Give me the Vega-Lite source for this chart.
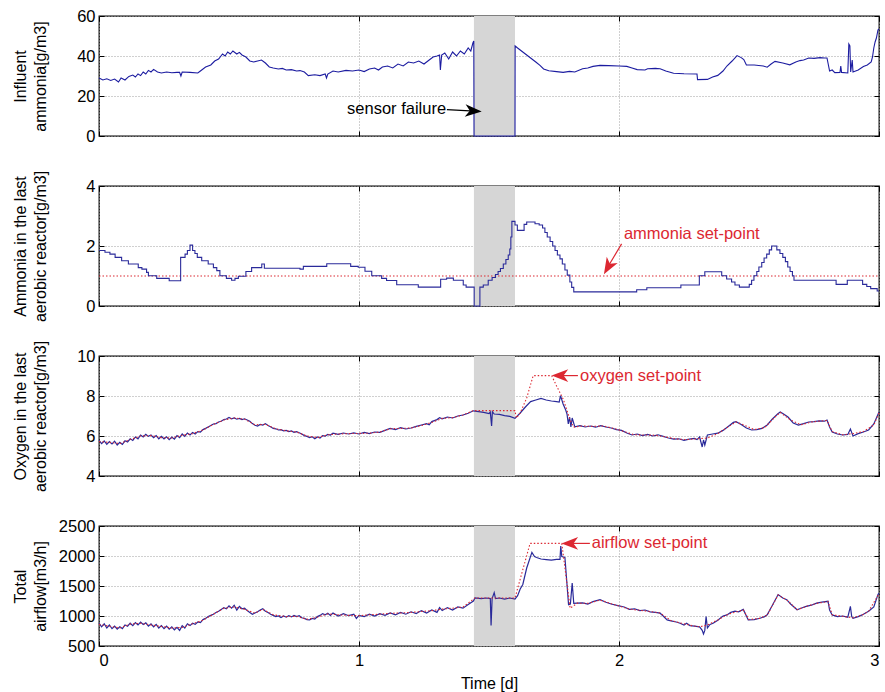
{
  "$schema": "https://vega.github.io/schema/vega-lite/v6.json",
  "background": "white",
  "padding": {"left": 11, "top": 7, "right": 2, "bottom": 2},
  "spacing": 50,
  "bounds": "flush",
  "config": {
    "font": "Liberation Sans",
    "view": {"stroke": "#000000", "strokeWidth": 1.3},
    "axis": {
      "labelFont": "Liberation Sans", "labelFontSize": 16.5, "labelColor": "#000000",
      "titleFont": "Liberation Sans", "titleFontSize": 16, "titleFontWeight": "normal", "titleColor": "#000000",
      "domain": false, "gridColor": "#a0a0a0", "gridDash": [1, 2], "gridWidth": 1,
      "tickColor": "#000000", "tickSize": -5, "labelPadding": 9
    },
    "axisLeft": {"titleAngle": 270, "titleAlign": "center", "titleBaseline": "alphabetic", "titleX": -74, "titleY": 60, "titleLineHeight": 20},
    "text": {"font": "Liberation Sans"}
  },
  "datasets": {
    "influent": [
      {"t":0.000,"v":29.0},{"t":0.015,"v":28.0},{"t":0.030,"v":28.6},{"t":0.045,"v":27.8},{"t":0.060,"v":28.5},{"t":0.075,"v":27.0},{"t":0.085,"v":29.0},{"t":0.100,"v":28.0},{"t":0.115,"v":29.8},{"t":0.130,"v":30.5},{"t":0.140,"v":29.5},{"t":0.150,"v":31.0},{"t":0.160,"v":30.2},{"t":0.170,"v":32.0},{"t":0.180,"v":31.0},{"t":0.190,"v":32.8},{"t":0.200,"v":32.0},{"t":0.210,"v":33.3},{"t":0.225,"v":32.0},{"t":0.240,"v":31.5},{"t":0.260,"v":32.0},{"t":0.280,"v":31.6},{"t":0.300,"v":31.8},{"t":0.310,"v":31.8},{"t":0.315,"v":30.0},{"t":0.320,"v":32.0},{"t":0.350,"v":31.8},{"t":0.380,"v":31.5},{"t":0.390,"v":32.5},{"t":0.410,"v":34.5},{"t":0.430,"v":35.5},{"t":0.445,"v":37.5},{"t":0.460,"v":38.5},{"t":0.475,"v":41.0},{"t":0.485,"v":40.0},{"t":0.495,"v":42.0},{"t":0.505,"v":41.0},{"t":0.515,"v":42.5},{"t":0.530,"v":41.0},{"t":0.540,"v":41.8},{"t":0.550,"v":40.5},{"t":0.565,"v":39.5},{"t":0.580,"v":37.5},{"t":0.595,"v":37.0},{"t":0.610,"v":37.5},{"t":0.625,"v":38.0},{"t":0.640,"v":36.5},{"t":0.655,"v":34.5},{"t":0.670,"v":34.0},{"t":0.690,"v":33.5},{"t":0.705,"v":33.8},{"t":0.720,"v":33.0},{"t":0.740,"v":33.2},{"t":0.760,"v":32.5},{"t":0.773,"v":32.7},{"t":0.790,"v":32.0},{"t":0.805,"v":30.2},{"t":0.830,"v":30.6},{"t":0.850,"v":30.2},{"t":0.870,"v":31.0},{"t":0.875,"v":29.0},{"t":0.880,"v":31.0},{"t":0.900,"v":32.5},{"t":0.920,"v":32.0},{"t":0.950,"v":32.8},{"t":0.975,"v":32.5},{"t":1.000,"v":33.0},{"t":1.020,"v":32.2},{"t":1.040,"v":33.5},{"t":1.060,"v":34.0},{"t":1.075,"v":33.0},{"t":1.090,"v":34.5},{"t":1.110,"v":35.0},{"t":1.130,"v":34.0},{"t":1.150,"v":36.0},{"t":1.170,"v":35.0},{"t":1.190,"v":37.0},{"t":1.210,"v":36.5},{"t":1.230,"v":37.5},{"t":1.250,"v":36.0},{"t":1.270,"v":38.0},{"t":1.285,"v":39.5},{"t":1.300,"v":40.0},{"t":1.310,"v":40.5},{"t":1.313,"v":33.0},{"t":1.318,"v":40.5},{"t":1.330,"v":41.5},{"t":1.345,"v":38.5},{"t":1.360,"v":42.0},{"t":1.375,"v":40.0},{"t":1.390,"v":42.5},{"t":1.405,"v":41.0},{"t":1.420,"v":44.0},{"t":1.430,"v":42.5},{"t":1.438,"v":46.5},{"t":1.4415,"v":47.5},{"t":1.4425,"v":0},{"t":1.600,"v":0},{"t":1.6005,"v":45.0},{"t":1.610,"v":44.0},{"t":1.620,"v":43.0},{"t":1.640,"v":41.0},{"t":1.660,"v":39.0},{"t":1.680,"v":37.0},{"t":1.696,"v":35.3},{"t":1.710,"v":33.5},{"t":1.730,"v":32.6},{"t":1.760,"v":32.2},{"t":1.785,"v":31.8},{"t":1.810,"v":32.3},{"t":1.830,"v":32.0},{"t":1.860,"v":33.6},{"t":1.880,"v":34.0},{"t":1.900,"v":34.8},{"t":1.927,"v":35.3},{"t":1.960,"v":35.2},{"t":2.000,"v":35.0},{"t":2.030,"v":34.8},{"t":2.050,"v":34.0},{"t":2.070,"v":33.2},{"t":2.100,"v":33.0},{"t":2.110,"v":33.6},{"t":2.140,"v":33.8},{"t":2.158,"v":33.6},{"t":2.180,"v":32.5},{"t":2.210,"v":31.4},{"t":2.250,"v":31.1},{"t":2.300,"v":31.0},{"t":2.302,"v":28.2},{"t":2.340,"v":28.3},{"t":2.360,"v":29.5},{"t":2.380,"v":30.3},{"t":2.400,"v":32.5},{"t":2.415,"v":35.0},{"t":2.435,"v":37.5},{"t":2.454,"v":40.2},{"t":2.470,"v":39.2},{"t":2.480,"v":38.2},{"t":2.490,"v":35.5},{"t":2.520,"v":35.5},{"t":2.555,"v":35.0},{"t":2.570,"v":34.4},{"t":2.585,"v":36.0},{"t":2.600,"v":37.3},{"t":2.630,"v":36.5},{"t":2.657,"v":35.6},{"t":2.680,"v":37.0},{"t":2.696,"v":37.7},{"t":2.710,"v":38.0},{"t":2.730,"v":39.0},{"t":2.750,"v":38.8},{"t":2.773,"v":39.2},{"t":2.790,"v":39.0},{"t":2.800,"v":39.0},{"t":2.810,"v":32.5},{"t":2.820,"v":33.0},{"t":2.830,"v":31.7},{"t":2.850,"v":31.8},{"t":2.853,"v":35.0},{"t":2.856,"v":31.8},{"t":2.880,"v":31.5},{"t":2.884,"v":46.0},{"t":2.888,"v":45.0},{"t":2.891,"v":32.0},{"t":2.897,"v":38.0},{"t":2.900,"v":32.0},{"t":2.920,"v":33.0},{"t":2.940,"v":34.7},{"t":2.955,"v":35.5},{"t":2.970,"v":37.0},{"t":2.975,"v":39.5},{"t":2.980,"v":44.0},{"t":2.985,"v":47.0},{"t":2.990,"v":49.0},{"t":2.996,"v":53.0},{"t":3.000,"v":53.5}
    ],
    "ammonia": [
      {"t":0.000,"v":1.85},{"t":0.023,"v":1.79},{"t":0.042,"v":1.73},{"t":0.062,"v":1.62},{"t":0.087,"v":1.51},{"t":0.113,"v":1.40},{"t":0.151,"v":1.28},{"t":0.165,"v":1.23},{"t":0.183,"v":1.12},{"t":0.190,"v":1.01},{"t":0.222,"v":0.92},{"t":0.270,"v":0.84},{"t":0.314,"v":1.62},{"t":0.331,"v":1.73},{"t":0.340,"v":1.85},{"t":0.350,"v":2.03},{"t":0.360,"v":1.85},{"t":0.369,"v":1.75},{"t":0.378,"v":1.62},{"t":0.395,"v":1.51},{"t":0.420,"v":1.40},{"t":0.440,"v":1.28},{"t":0.453,"v":1.18},{"t":0.465,"v":1.01},{"t":0.490,"v":0.92},{"t":0.510,"v":0.86},{"t":0.523,"v":0.92},{"t":0.536,"v":0.99},{"t":0.565,"v":1.15},{"t":0.587,"v":1.28},{"t":0.626,"v":1.40},{"t":0.636,"v":1.26},{"t":0.773,"v":1.23},{"t":0.786,"v":1.32},{"t":0.876,"v":1.41},{"t":0.968,"v":1.32},{"t":0.997,"v":1.29},{"t":1.023,"v":1.16},{"t":1.049,"v":1.01},{"t":1.087,"v":0.92},{"t":1.106,"v":0.85},{"t":1.145,"v":0.71},{"t":1.228,"v":0.63},{"t":1.314,"v":0.89},{"t":1.337,"v":0.93},{"t":1.363,"v":0.86},{"t":1.401,"v":0.70},{"t":1.412,"v":0.63},{"t":1.443,"v":0.0},{"t":1.465,"v":0.63},{"t":1.478,"v":0.70},{"t":1.497,"v":0.86},{"t":1.512,"v":0.95},{"t":1.525,"v":1.05},{"t":1.535,"v":1.15},{"t":1.544,"v":1.25},{"t":1.555,"v":1.40},{"t":1.565,"v":1.55},{"t":1.574,"v":1.70},{"t":1.580,"v":1.90},{"t":1.584,"v":2.30},{"t":1.588,"v":2.82},{"t":1.600,"v":2.70},{"t":1.609,"v":2.52},{"t":1.635,"v":2.72},{"t":1.645,"v":2.80},{"t":1.677,"v":2.74},{"t":1.693,"v":2.70},{"t":1.706,"v":2.60},{"t":1.715,"v":2.45},{"t":1.724,"v":2.30},{"t":1.735,"v":2.15},{"t":1.745,"v":2.00},{"t":1.754,"v":1.85},{"t":1.763,"v":1.70},{"t":1.773,"v":1.57},{"t":1.782,"v":1.40},{"t":1.792,"v":1.20},{"t":1.801,"v":1.03},{"t":1.811,"v":0.80},{"t":1.818,"v":0.62},{"t":1.826,"v":0.47},{"t":2.068,"v":0.54},{"t":2.107,"v":0.61},{"t":2.238,"v":0.70},{"t":2.309,"v":1.01},{"t":2.330,"v":1.14},{"t":2.395,"v":1.01},{"t":2.414,"v":0.90},{"t":2.433,"v":0.80},{"t":2.446,"v":0.70},{"t":2.463,"v":0.63},{"t":2.501,"v":0.72},{"t":2.510,"v":0.86},{"t":2.519,"v":1.01},{"t":2.530,"v":1.15},{"t":2.538,"v":1.30},{"t":2.549,"v":1.45},{"t":2.558,"v":1.60},{"t":2.568,"v":1.73},{"t":2.578,"v":1.87},{"t":2.587,"v":2.00},{"t":2.607,"v":1.87},{"t":2.619,"v":1.75},{"t":2.630,"v":1.62},{"t":2.640,"v":1.48},{"t":2.649,"v":1.30},{"t":2.658,"v":1.15},{"t":2.667,"v":1.01},{"t":2.673,"v":0.86},{"t":2.835,"v":0.72},{"t":2.878,"v":0.86},{"t":2.937,"v":0.72},{"t":2.953,"v":0.65},{"t":2.968,"v":0.58},{"t":2.993,"v":0.50},{"t":3.000,"v":0.50}
    ],
    "oxygen": [
      {"t":0.00,"v":5.78},{"t":0.01,"v":5.62},{"t":0.02,"v":5.75},{"t":0.03,"v":5.58},{"t":0.04,"v":5.72},{"t":0.05,"v":5.60},{"t":0.06,"v":5.74},{"t":0.07,"v":5.55},{"t":0.08,"v":5.68},{"t":0.09,"v":5.58},{"t":0.10,"v":5.76},{"t":0.11,"v":5.70},{"t":0.12,"v":5.86},{"t":0.13,"v":5.78},{"t":0.14,"v":5.95},{"t":0.15,"v":5.86},{"t":0.16,"v":6.05},{"t":0.17,"v":5.95},{"t":0.18,"v":6.08},{"t":0.19,"v":5.98},{"t":0.20,"v":6.05},{"t":0.21,"v":5.92},{"t":0.22,"v":6.02},{"t":0.23,"v":5.86},{"t":0.24,"v":5.98},{"t":0.25,"v":5.85},{"t":0.26,"v":5.96},{"t":0.27,"v":5.82},{"t":0.28,"v":5.95},{"t":0.29,"v":5.84},{"t":0.30,"v":6.02},{"t":0.31,"v":5.92},{"t":0.32,"v":6.10},{"t":0.33,"v":5.98},{"t":0.34,"v":6.15},{"t":0.35,"v":6.05},{"t":0.36,"v":6.18},{"t":0.37,"v":6.10},{"t":0.38,"v":6.22},{"t":0.39,"v":6.20},{"t":0.40,"v":6.32},{"t":0.41,"v":6.38},{"t":0.42,"v":6.45},{"t":0.43,"v":6.52},{"t":0.44,"v":6.60},{"t":0.45,"v":6.62},{"t":0.46,"v":6.70},{"t":0.47,"v":6.74},{"t":0.48,"v":6.82},{"t":0.49,"v":6.85},{"t":0.50,"v":6.93},{"t":0.51,"v":6.86},{"t":0.52,"v":6.90},{"t":0.53,"v":6.84},{"t":0.54,"v":6.88},{"t":0.55,"v":6.82},{"t":0.56,"v":6.86},{"t":0.57,"v":6.80},{"t":0.58,"v":6.74},{"t":0.59,"v":6.62},{"t":0.60,"v":6.54},{"t":0.61,"v":6.50},{"t":0.62,"v":6.58},{"t":0.63,"v":6.55},{"t":0.64,"v":6.62},{"t":0.65,"v":6.52},{"t":0.66,"v":6.46},{"t":0.67,"v":6.38},{"t":0.68,"v":6.36},{"t":0.69,"v":6.30},{"t":0.70,"v":6.32},{"t":0.71,"v":6.26},{"t":0.72,"v":6.28},{"t":0.73,"v":6.22},{"t":0.74,"v":6.25},{"t":0.75,"v":6.18},{"t":0.76,"v":6.22},{"t":0.77,"v":6.16},{"t":0.78,"v":6.10},{"t":0.79,"v":6.02},{"t":0.80,"v":5.98},{"t":0.81,"v":5.92},{"t":0.82,"v":5.96},{"t":0.83,"v":5.86},{"t":0.84,"v":5.95},{"t":0.85,"v":5.90},{"t":0.86,"v":6.02},{"t":0.87,"v":6.00},{"t":0.88,"v":6.08},{"t":0.89,"v":6.05},{"t":0.90,"v":6.14},{"t":0.92,"v":6.08},{"t":0.94,"v":6.15},{"t":0.96,"v":6.10},{"t":0.98,"v":6.16},{"t":1.00,"v":6.10},{"t":1.02,"v":6.18},{"t":1.04,"v":6.12},{"t":1.06,"v":6.20},{"t":1.08,"v":6.18},{"t":1.10,"v":6.28},{"t":1.12,"v":6.38},{"t":1.14,"v":6.32},{"t":1.16,"v":6.42},{"t":1.18,"v":6.35},{"t":1.20,"v":6.40},{"t":1.22,"v":6.48},{"t":1.24,"v":6.55},{"t":1.26,"v":6.62},{"t":1.27,"v":6.56},{"t":1.28,"v":6.72},{"t":1.30,"v":6.82},{"t":1.31,"v":6.92},{"t":1.32,"v":6.86},{"t":1.34,"v":6.95},{"t":1.36,"v":6.90},{"t":1.38,"v":7.00},{"t":1.40,"v":7.05},{"t":1.42,"v":7.14},{"t":1.44,"v":7.26},{"t":1.46,"v":7.22},{"t":1.48,"v":7.18},{"t":1.50,"v":7.12},{"t":1.505,"v":7.20},{"t":1.51,"v":6.50},{"t":1.513,"v":7.22},{"t":1.52,"v":7.10},{"t":1.54,"v":7.08},{"t":1.56,"v":7.02},{"t":1.58,"v":6.98},{"t":1.60,"v":6.88},{"t":1.62,"v":7.15},{"t":1.64,"v":7.45},{"t":1.66,"v":7.72},{"t":1.68,"v":7.80},{"t":1.70,"v":7.88},{"t":1.72,"v":7.80},{"t":1.74,"v":7.75},{"t":1.76,"v":7.72},{"t":1.77,"v":7.70},{"t":1.775,"v":8.02},{"t":1.785,"v":7.60},{"t":1.795,"v":7.30},{"t":1.80,"v":7.10},{"t":1.805,"v":6.60},{"t":1.81,"v":6.95},{"t":1.815,"v":6.45},{"t":1.82,"v":6.90},{"t":1.83,"v":6.46},{"t":1.85,"v":6.52},{"t":1.87,"v":6.45},{"t":1.89,"v":6.50},{"t":1.91,"v":6.44},{"t":1.93,"v":6.52},{"t":1.95,"v":6.45},{"t":1.97,"v":6.40},{"t":1.99,"v":6.32},{"t":2.01,"v":6.28},{"t":2.03,"v":6.15},{"t":2.05,"v":6.05},{"t":2.07,"v":6.10},{"t":2.09,"v":6.02},{"t":2.11,"v":6.08},{"t":2.13,"v":6.00},{"t":2.15,"v":6.06},{"t":2.17,"v":5.98},{"t":2.19,"v":5.90},{"t":2.21,"v":5.84},{"t":2.23,"v":5.86},{"t":2.25,"v":5.78},{"t":2.27,"v":5.84},{"t":2.29,"v":5.88},{"t":2.30,"v":5.82},{"t":2.31,"v":5.95},{"t":2.32,"v":5.45},{"t":2.325,"v":5.80},{"t":2.33,"v":5.55},{"t":2.34,"v":6.05},{"t":2.36,"v":6.10},{"t":2.38,"v":6.14},{"t":2.40,"v":6.28},{"t":2.42,"v":6.48},{"t":2.44,"v":6.68},{"t":2.45,"v":6.72},{"t":2.47,"v":6.58},{"t":2.49,"v":6.40},{"t":2.51,"v":6.30},{"t":2.53,"v":6.32},{"t":2.55,"v":6.38},{"t":2.57,"v":6.55},{"t":2.59,"v":6.85},{"t":2.61,"v":7.10},{"t":2.62,"v":7.20},{"t":2.63,"v":7.12},{"t":2.65,"v":6.95},{"t":2.67,"v":6.65},{"t":2.69,"v":6.55},{"t":2.71,"v":6.62},{"t":2.73,"v":6.70},{"t":2.75,"v":6.72},{"t":2.77,"v":6.76},{"t":2.79,"v":6.74},{"t":2.80,"v":6.80},{"t":2.81,"v":6.45},{"t":2.82,"v":6.20},{"t":2.84,"v":6.10},{"t":2.86,"v":6.05},{"t":2.88,"v":6.08},{"t":2.89,"v":6.35},{"t":2.90,"v":6.00},{"t":2.92,"v":6.12},{"t":2.94,"v":6.20},{"t":2.96,"v":6.30},{"t":2.98,"v":6.60},{"t":3.00,"v":7.20}
    ],
    "oxygenSP": [
      {"t":0.00,"v":5.72},{"t":0.04,"v":5.68},{"t":0.08,"v":5.62},{"t":0.12,"v":5.82},{"t":0.16,"v":6.00},{"t":0.20,"v":6.02},{"t":0.24,"v":5.92},{"t":0.28,"v":5.90},{"t":0.32,"v":6.04},{"t":0.36,"v":6.12},{"t":0.40,"v":6.30},{"t":0.44,"v":6.58},{"t":0.48,"v":6.80},{"t":0.52,"v":6.90},{"t":0.56,"v":6.84},{"t":0.60,"v":6.56},{"t":0.64,"v":6.58},{"t":0.68,"v":6.36},{"t":0.72,"v":6.26},{"t":0.76,"v":6.20},{"t":0.80,"v":6.00},{"t":0.84,"v":5.92},{"t":0.88,"v":6.06},{"t":0.92,"v":6.10},{"t":0.96,"v":6.12},{"t":1.00,"v":6.13},{"t":1.04,"v":6.14},{"t":1.08,"v":6.20},{"t":1.12,"v":6.36},{"t":1.16,"v":6.38},{"t":1.20,"v":6.40},{"t":1.24,"v":6.52},{"t":1.28,"v":6.68},{"t":1.32,"v":6.88},{"t":1.36,"v":6.92},{"t":1.40,"v":7.05},{"t":1.44,"v":7.27},{"t":1.60,"v":7.27},{"t":1.605,"v":6.90},{"t":1.62,"v":7.15},{"t":1.645,"v":7.90},{"t":1.67,"v":9.02},{"t":1.741,"v":9.02},{"t":1.76,"v":8.50},{"t":1.786,"v":7.83},{"t":1.812,"v":6.80},{"t":1.825,"v":6.45},{"t":1.86,"v":6.50},{"t":1.90,"v":6.48},{"t":1.94,"v":6.50},{"t":1.98,"v":6.38},{"t":2.02,"v":6.22},{"t":2.06,"v":6.06},{"t":2.10,"v":6.05},{"t":2.14,"v":6.04},{"t":2.18,"v":5.95},{"t":2.22,"v":5.85},{"t":2.26,"v":5.82},{"t":2.30,"v":5.86},{"t":2.34,"v":5.90},{"t":2.38,"v":6.12},{"t":2.42,"v":6.46},{"t":2.45,"v":6.70},{"t":2.48,"v":6.55},{"t":2.52,"v":6.32},{"t":2.56,"v":6.42},{"t":2.60,"v":6.95},{"t":2.62,"v":7.18},{"t":2.66,"v":6.80},{"t":2.70,"v":6.56},{"t":2.74,"v":6.70},{"t":2.80,"v":6.78},{"t":2.82,"v":6.22},{"t":2.86,"v":6.06},{"t":2.90,"v":6.12},{"t":2.94,"v":6.22},{"t":2.98,"v":6.55},{"t":3.00,"v":7.15}
    ],
    "airflow": [
      {"t":0.00,"v":880},{"t":0.01,"v":820},{"t":0.02,"v":870},{"t":0.03,"v":800},{"t":0.04,"v":850},{"t":0.05,"v":790},{"t":0.06,"v":830},{"t":0.07,"v":780},{"t":0.08,"v":820},{"t":0.09,"v":790},{"t":0.10,"v":850},{"t":0.11,"v":830},{"t":0.12,"v":880},{"t":0.13,"v":840},{"t":0.14,"v":890},{"t":0.15,"v":850},{"t":0.16,"v":900},{"t":0.17,"v":860},{"t":0.18,"v":885},{"t":0.19,"v":830},{"t":0.20,"v":870},{"t":0.21,"v":820},{"t":0.22,"v":860},{"t":0.23,"v":800},{"t":0.24,"v":840},{"t":0.25,"v":790},{"t":0.26,"v":830},{"t":0.27,"v":780},{"t":0.28,"v":820},{"t":0.29,"v":770},{"t":0.30,"v":810},{"t":0.31,"v":760},{"t":0.32,"v":840},{"t":0.33,"v":800},{"t":0.34,"v":870},{"t":0.35,"v":840},{"t":0.36,"v":880},{"t":0.37,"v":860},{"t":0.38,"v":900},{"t":0.39,"v":890},{"t":0.40,"v":940},{"t":0.41,"v":960},{"t":0.42,"v":990},{"t":0.43,"v":1010},{"t":0.44,"v":1030},{"t":0.45,"v":1060},{"t":0.46,"v":1080},{"t":0.47,"v":1110},{"t":0.48,"v":1140},{"t":0.49,"v":1120},{"t":0.50,"v":1170},{"t":0.51,"v":1130},{"t":0.52,"v":1180},{"t":0.53,"v":1100},{"t":0.54,"v":1160},{"t":0.55,"v":1120},{"t":0.56,"v":1130},{"t":0.57,"v":1090},{"t":0.58,"v":1060},{"t":0.59,"v":1030},{"t":0.60,"v":1050},{"t":0.61,"v":1070},{"t":0.62,"v":1100},{"t":0.63,"v":1120},{"t":0.64,"v":1080},{"t":0.65,"v":1060},{"t":0.66,"v":1030},{"t":0.67,"v":1010},{"t":0.68,"v":990},{"t":0.69,"v":1000},{"t":0.70,"v":975},{"t":0.71,"v":1000},{"t":0.72,"v":980},{"t":0.73,"v":1005},{"t":0.74,"v":985},{"t":0.75,"v":1010},{"t":0.76,"v":990},{"t":0.77,"v":1005},{"t":0.78,"v":970},{"t":0.79,"v":960},{"t":0.80,"v":940},{"t":0.81,"v":935},{"t":0.82,"v":960},{"t":0.83,"v":950},{"t":0.84,"v":990},{"t":0.85,"v":1010},{"t":0.86,"v":1040},{"t":0.87,"v":1020},{"t":0.88,"v":1045},{"t":0.89,"v":1010},{"t":0.90,"v":1050},{"t":0.92,"v":1000},{"t":0.94,"v":1040},{"t":0.96,"v":1005},{"t":0.98,"v":1030},{"t":0.99,"v":960},{"t":1.00,"v":1010},{"t":1.02,"v":990},{"t":1.04,"v":1030},{"t":1.06,"v":1000},{"t":1.08,"v":1040},{"t":1.10,"v":1010},{"t":1.12,"v":1050},{"t":1.14,"v":1020},{"t":1.16,"v":1060},{"t":1.18,"v":1030},{"t":1.20,"v":1070},{"t":1.22,"v":1040},{"t":1.24,"v":1090},{"t":1.26,"v":1050},{"t":1.28,"v":1100},{"t":1.30,"v":1060},{"t":1.31,"v":1140},{"t":1.32,"v":1090},{"t":1.34,"v":1140},{"t":1.36,"v":1100},{"t":1.38,"v":1150},{"t":1.40,"v":1130},{"t":1.42,"v":1190},{"t":1.44,"v":1250},{"t":1.446,"v":1300},{"t":1.47,"v":1290},{"t":1.49,"v":1300},{"t":1.505,"v":1290},{"t":1.508,"v":840},{"t":1.512,"v":1290},{"t":1.52,"v":1390},{"t":1.525,"v":1290},{"t":1.54,"v":1300},{"t":1.56,"v":1280},{"t":1.58,"v":1300},{"t":1.60,"v":1280},{"t":1.61,"v":1340},{"t":1.62,"v":1450},{"t":1.63,"v":1525},{"t":1.645,"v":1800},{"t":1.665,"v":2060},{"t":1.675,"v":1990},{"t":1.683,"v":1975},{"t":1.70,"v":1950},{"t":1.72,"v":1940},{"t":1.74,"v":1930},{"t":1.76,"v":1945},{"t":1.773,"v":1945},{"t":1.776,"v":2165},{"t":1.78,"v":1990},{"t":1.792,"v":1975},{"t":1.80,"v":1525},{"t":1.806,"v":1190},{"t":1.813,"v":1200},{"t":1.82,"v":1550},{"t":1.826,"v":1210},{"t":1.838,"v":1215},{"t":1.86,"v":1220},{"t":1.88,"v":1200},{"t":1.90,"v":1240},{"t":1.927,"v":1272},{"t":1.95,"v":1230},{"t":1.97,"v":1200},{"t":2.00,"v":1170},{"t":2.02,"v":1150},{"t":2.04,"v":1110},{"t":2.06,"v":1120},{"t":2.08,"v":1090},{"t":2.10,"v":1100},{"t":2.12,"v":1070},{"t":2.14,"v":1060},{"t":2.158,"v":1047},{"t":2.17,"v":1000},{"t":2.185,"v":934},{"t":2.20,"v":920},{"t":2.22,"v":900},{"t":2.235,"v":880},{"t":2.25,"v":850},{"t":2.26,"v":880},{"t":2.273,"v":840},{"t":2.29,"v":830},{"t":2.31,"v":820},{"t":2.32,"v":760},{"t":2.325,"v":700},{"t":2.33,"v":760},{"t":2.335,"v":990},{"t":2.34,"v":800},{"t":2.35,"v":860},{"t":2.362,"v":878},{"t":2.38,"v":930},{"t":2.40,"v":1000},{"t":2.415,"v":1018},{"t":2.43,"v":1060},{"t":2.446,"v":1080},{"t":2.46,"v":1070},{"t":2.478,"v":1110},{"t":2.49,"v":1000},{"t":2.497,"v":934},{"t":2.52,"v":940},{"t":2.542,"v":962},{"t":2.56,"v":990},{"t":2.57,"v":1020},{"t":2.59,"v":1180},{"t":2.612,"v":1357},{"t":2.63,"v":1300},{"t":2.645,"v":1272},{"t":2.66,"v":1200},{"t":2.685,"v":1103},{"t":2.70,"v":1130},{"t":2.72,"v":1160},{"t":2.74,"v":1180},{"t":2.76,"v":1215},{"t":2.78,"v":1230},{"t":2.804,"v":1245},{"t":2.81,"v":1100},{"t":2.82,"v":1018},{"t":2.84,"v":990},{"t":2.86,"v":1000},{"t":2.88,"v":980},{"t":2.89,"v":1160},{"t":2.895,"v":990},{"t":2.90,"v":962},{"t":2.92,"v":990},{"t":2.935,"v":1018},{"t":2.96,"v":1080},{"t":2.98,"v":1150},{"t":2.996,"v":1357},{"t":3.00,"v":1380}
    ],
    "airflowSP": [
      {"t":0.00,"v":860},{"t":0.04,"v":830},{"t":0.08,"v":800},{"t":0.12,"v":865},{"t":0.16,"v":880},{"t":0.20,"v":850},{"t":0.24,"v":825},{"t":0.28,"v":800},{"t":0.32,"v":810},{"t":0.36,"v":870},{"t":0.40,"v":930},{"t":0.44,"v":1030},{"t":0.48,"v":1130},{"t":0.52,"v":1150},{"t":0.56,"v":1110},{"t":0.60,"v":1050},{"t":0.63,"v":1110},{"t":0.67,"v":1020},{"t":0.72,"v":990},{"t":0.76,"v":995},{"t":0.80,"v":945},{"t":0.84,"v":980},{"t":0.88,"v":1035},{"t":0.92,"v":1020},{"t":0.96,"v":1010},{"t":1.00,"v":1005},{"t":1.04,"v":1020},{"t":1.08,"v":1030},{"t":1.12,"v":1045},{"t":1.16,"v":1050},{"t":1.20,"v":1060},{"t":1.24,"v":1075},{"t":1.28,"v":1090},{"t":1.32,"v":1115},{"t":1.36,"v":1130},{"t":1.40,"v":1150},{"t":1.446,"v":1300},{"t":1.60,"v":1300},{"t":1.658,"v":2210},{"t":1.78,"v":2210},{"t":1.812,"v":1130},{"t":1.84,"v":1215},{"t":1.88,"v":1210},{"t":1.927,"v":1265},{"t":1.96,"v":1220},{"t":2.00,"v":1165},{"t":2.04,"v":1115},{"t":2.08,"v":1095},{"t":2.12,"v":1075},{"t":2.158,"v":1050},{"t":2.20,"v":925},{"t":2.24,"v":880},{"t":2.28,"v":840},{"t":2.31,"v":820},{"t":2.34,"v":850},{"t":2.38,"v":935},{"t":2.42,"v":1030},{"t":2.46,"v":1080},{"t":2.478,"v":1100},{"t":2.50,"v":940},{"t":2.54,"v":960},{"t":2.57,"v":1015},{"t":2.612,"v":1350},{"t":2.645,"v":1270},{"t":2.685,"v":1105},{"t":2.72,"v":1160},{"t":2.76,"v":1210},{"t":2.804,"v":1240},{"t":2.82,"v":1020},{"t":2.86,"v":995},{"t":2.90,"v":970},{"t":2.935,"v":1015},{"t":2.96,"v":1080},{"t":3.00,"v":1370}
    ]
  },
  "vconcat": [
    {
      "width": 780, "height": 120,
      "resolve": {"axis": {"x": "independent", "y": "independent"}},
      "encoding": {
        "x": {"field": "t", "type": "quantitative", "scale": {"domain": [0, 3], "nice": false}, "axis": null},
        "y": {"field": "v", "type": "quantitative", "scale": {"domain": [0, 60], "nice": false}, "axis": null}
      },
      "layer": [
        {"data": {"values": [{"t": 1.442, "t2": 1.6, "v": 0, "v2": 60}]}, "mark": {"type": "rect", "color": "#d6d6d6"},
         "encoding": {
           "x": {"field": "t", "type": "quantitative", "scale": {"domain": [0, 3], "nice": false}, "axis": {"values": [0, 1, 2, 3], "labels": false, "title": null, "grid": true}},
           "y": {"field": "v", "type": "quantitative", "scale": {"domain": [0, 60], "nice": false}, "axis": {"values": [0, 20, 40, 60], "grid": true, "title": ["Influent", "ammonia[g/m3]"]}},
           "x2": {"field": "t2"}, "y2": {"field": "v2"}}},
        {"data": {"name": "influent"}, "mark": {"type": "line", "color": "#1c1ca0", "strokeWidth": 1.1},
         "encoding": {
           "x": {"field": "t", "type": "quantitative", "scale": {"domain": [0, 3], "nice": false}, "axis": {"orient": "top", "values": [0, 1, 2, 3], "labels": false, "title": null, "grid": false}},
           "y": {"field": "v", "type": "quantitative", "scale": {"domain": [0, 60], "nice": false}, "axis": {"orient": "right", "values": [0, 20, 40, 60], "labels": false, "title": null, "grid": false}}}},
        {"data": {"values": [{"t": 1.335, "v": 13.6, "label": "sensor failure"}]}, "mark": {"type": "text", "align": "right", "baseline": "middle", "fontSize": 16.5, "color": "#000000"}, "encoding": {"text": {"field": "label"}}},
        {"data": {"values": [{"t": 1.338, "v": 13.2, "t2": 1.462, "v2": 12.3}]}, "mark": {"type": "rule", "color": "#000000", "strokeWidth": 1.2}, "encoding": {"x2": {"field": "t2"}, "y2": {"field": "v2"}}},
        {"data": {"values": [{"t": 1.472, "v": 12.2}]}, "mark": {"type": "point", "shape": "M0,0L-1,-0.38L-0.72,0L-1,0.38Z", "size": 1100, "filled": true, "color": "#000000", "opacity": 1, "angle": 4}}
      ]
    },
    {
      "width": 780, "height": 120,
      "resolve": {"axis": {"x": "independent", "y": "independent"}},
      "encoding": {
        "x": {"field": "t", "type": "quantitative", "scale": {"domain": [0, 3], "nice": false}, "axis": null},
        "y": {"field": "v", "type": "quantitative", "scale": {"domain": [0, 4], "nice": false}, "axis": null}
      },
      "layer": [
        {"data": {"values": [{"t": 1.442, "t2": 1.6, "v": 0, "v2": 4}]}, "mark": {"type": "rect", "color": "#d6d6d6"},
         "encoding": {
           "x": {"field": "t", "type": "quantitative", "scale": {"domain": [0, 3], "nice": false}, "axis": {"values": [0, 1, 2, 3], "labels": false, "title": null, "grid": true}},
           "y": {"field": "v", "type": "quantitative", "scale": {"domain": [0, 4], "nice": false}, "axis": {"values": [0, 2, 4], "grid": true, "title": ["Ammonia in the last", "aerobic reactor[g/m3]"]}},
           "x2": {"field": "t2"}, "y2": {"field": "v2"}}},
        {"data": {"values": [{"t": 0, "v": 1}, {"t": 3, "v": 1}]}, "mark": {"type": "line", "color": "#dc2832", "strokeWidth": 1.1, "strokeDash": [1.5, 2]}},
        {"data": {"name": "ammonia"}, "mark": {"type": "line", "color": "#2a2a9a", "strokeWidth": 1.1, "interpolate": "step-after"},
         "encoding": {
           "x": {"field": "t", "type": "quantitative", "scale": {"domain": [0, 3], "nice": false}, "axis": {"orient": "top", "values": [0, 1, 2, 3], "labels": false, "title": null, "grid": false}},
           "y": {"field": "v", "type": "quantitative", "scale": {"domain": [0, 4], "nice": false}, "axis": {"orient": "right", "values": [0, 2, 4], "labels": false, "title": null, "grid": false}}}},
        {"data": {"values": [{"t": 2.019, "v": 2.4, "label": "ammonia set-point"}]}, "mark": {"type": "text", "align": "left", "baseline": "middle", "fontSize": 16.5, "color": "#dc2832"}, "encoding": {"text": {"field": "label"}}},
        {"data": {"values": [{"t": 2.010, "v": 2.07, "t2": 1.95, "v2": 1.2}]}, "mark": {"type": "rule", "color": "#dc2832", "strokeWidth": 1.2}, "encoding": {"x2": {"field": "t2"}, "y2": {"field": "v2"}}},
        {"data": {"values": [{"t": 1.942, "v": 1.06}]}, "mark": {"type": "point", "shape": "M0,0L-1,-0.38L-0.72,0L-1,0.38Z", "size": 1100, "filled": true, "color": "#dc2832", "opacity": 1, "angle": 120}}
      ]
    },
    {
      "width": 780, "height": 120,
      "resolve": {"axis": {"x": "independent", "y": "independent"}},
      "encoding": {
        "x": {"field": "t", "type": "quantitative", "scale": {"domain": [0, 3], "nice": false}, "axis": null},
        "y": {"field": "v", "type": "quantitative", "scale": {"domain": [4, 10], "nice": false, "zero": false}, "axis": null}
      },
      "layer": [
        {"data": {"values": [{"t": 1.442, "t2": 1.6, "v": 4, "v2": 10}]}, "mark": {"type": "rect", "color": "#d6d6d6"},
         "encoding": {
           "x": {"field": "t", "type": "quantitative", "scale": {"domain": [0, 3], "nice": false}, "axis": {"values": [0, 1, 2, 3], "labels": false, "title": null, "grid": true}},
           "y": {"field": "v", "type": "quantitative", "scale": {"domain": [4, 10], "nice": false, "zero": false}, "axis": {"values": [4, 6, 8, 10], "grid": true, "title": ["Oxygen in the last", "aerobic reactor[g/m3]"]}},
           "x2": {"field": "t2"}, "y2": {"field": "v2"}}},
        {"data": {"name": "oxygen"}, "mark": {"type": "line", "color": "#2a2a9a", "strokeWidth": 1.2},
         "encoding": {
           "x": {"field": "t", "type": "quantitative", "scale": {"domain": [0, 3], "nice": false}, "axis": {"orient": "top", "values": [0, 1, 2, 3], "labels": false, "title": null, "grid": false}},
           "y": {"field": "v", "type": "quantitative", "scale": {"domain": [4, 10], "nice": false, "zero": false}, "axis": {"orient": "right", "values": [4, 6, 8, 10], "labels": false, "title": null, "grid": false}}}},
        {"data": {"name": "oxygenSP"}, "mark": {"type": "line", "color": "#dc2832", "strokeWidth": 1.1, "strokeDash": [1.5, 2]}},
        {"data": {"values": [{"t": 1.85, "v": 9.02, "label": "oxygen set-point"}]}, "mark": {"type": "text", "align": "left", "baseline": "middle", "fontSize": 16.5, "color": "#dc2832"}, "encoding": {"text": {"field": "label"}}},
        {"data": {"values": [{"t": 1.842, "v": 9.02, "t2": 1.76, "v2": 9.02}]}, "mark": {"type": "rule", "color": "#dc2832", "strokeWidth": 1.2}, "encoding": {"x2": {"field": "t2"}, "y2": {"field": "v2"}}},
        {"data": {"values": [{"t": 1.741, "v": 9.02}]}, "mark": {"type": "point", "shape": "M0,0L-1,-0.38L-0.72,0L-1,0.38Z", "size": 1100, "filled": true, "color": "#dc2832", "opacity": 1, "angle": 180}}
      ]
    },
    {
      "width": 780, "height": 120,
      "resolve": {"axis": {"x": "independent", "y": "independent"}},
      "encoding": {
        "x": {"field": "t", "type": "quantitative", "scale": {"domain": [0, 3], "nice": false}, "axis": null},
        "y": {"field": "v", "type": "quantitative", "scale": {"domain": [500, 2500], "nice": false, "zero": false}, "axis": null}
      },
      "layer": [
        {"data": {"values": [{"t": 1.442, "t2": 1.6, "v": 500, "v2": 2500}]}, "mark": {"type": "rect", "color": "#d6d6d6"},
         "encoding": {
           "x": {"field": "t", "type": "quantitative", "scale": {"domain": [0, 3], "nice": false}, "axis": {"values": [0, 1, 2, 3], "format": "d", "grid": true, "title": "Time [d]", "labelPadding": 11, "titlePadding": 7}},
           "y": {"field": "v", "type": "quantitative", "scale": {"domain": [500, 2500], "nice": false, "zero": false}, "axis": {"values": [500, 1000, 1500, 2000, 2500], "format": "d", "grid": true, "title": ["Total", "airflow[m3/h]"]}},
           "x2": {"field": "t2"}, "y2": {"field": "v2"}}},
        {"data": {"name": "airflow"}, "mark": {"type": "line", "color": "#2a2a9a", "strokeWidth": 1.2},
         "encoding": {
           "x": {"field": "t", "type": "quantitative", "scale": {"domain": [0, 3], "nice": false}, "axis": {"orient": "top", "values": [0, 1, 2, 3], "labels": false, "title": null, "grid": false}},
           "y": {"field": "v", "type": "quantitative", "scale": {"domain": [500, 2500], "nice": false, "zero": false}, "axis": {"orient": "right", "values": [500, 1000, 1500, 2000, 2500], "labels": false, "title": null, "grid": false}}}},
        {"data": {"name": "airflowSP"}, "mark": {"type": "line", "color": "#dc2832", "strokeWidth": 1.1, "strokeDash": [1.5, 2]}},
        {"data": {"values": [{"t": 1.895, "v": 2210, "label": "airflow set-point"}]}, "mark": {"type": "text", "align": "left", "baseline": "middle", "fontSize": 16.5, "color": "#dc2832"}, "encoding": {"text": {"field": "label"}}},
        {"data": {"values": [{"t": 1.888, "v": 2210, "t2": 1.8, "v2": 2210}]}, "mark": {"type": "rule", "color": "#dc2832", "strokeWidth": 1.2}, "encoding": {"x2": {"field": "t2"}, "y2": {"field": "v2"}}},
        {"data": {"values": [{"t": 1.779, "v": 2210}]}, "mark": {"type": "point", "shape": "M0,0L-1,-0.38L-0.72,0L-1,0.38Z", "size": 1100, "filled": true, "color": "#dc2832", "opacity": 1, "angle": 180}}
      ]
    }
  ]
}
